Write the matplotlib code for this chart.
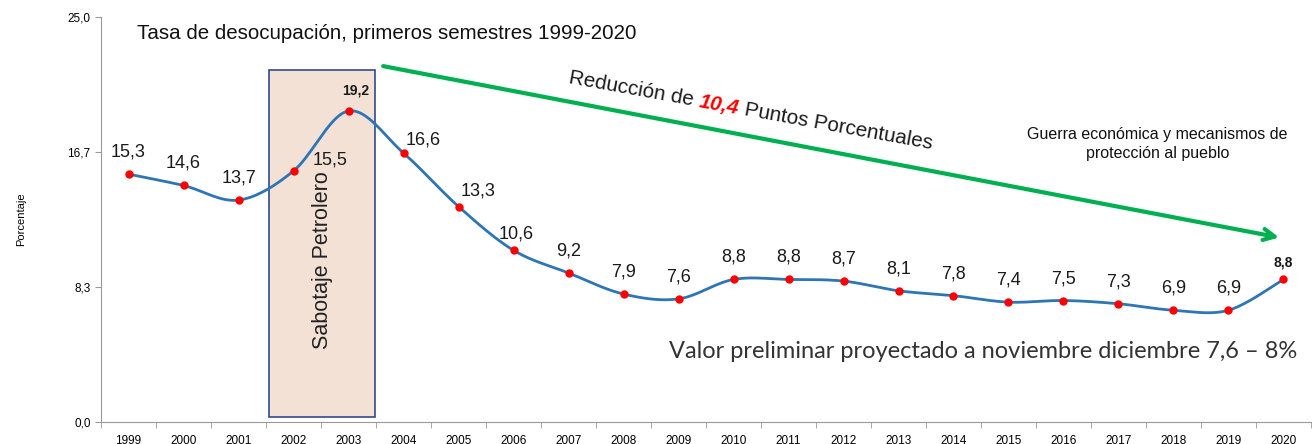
# tasa de desocupacion, primeros semestres 1999-2020
import numpy as np
import matplotlib.pyplot as plt

years = ['1999', '2000', '2001', '2002', '2003', '2004', '2005', '2006', '2007', '2008', '2009',
         '2010', '2011', '2012', '2013', '2014', '2015', '2016', '2017', '2018', '2019', '2020']
rate = [15.3, 14.6, 13.7, 15.5, 19.2, 16.6, 13.3, 10.6, 9.2, 7.9, 7.6,
        8.8, 8.8, 8.7, 8.1, 7.8, 7.4, 7.5, 7.3, 6.9, 6.9, 8.8]
yticks = [0.0, 25 / 3, 50 / 3, 25.0]

# label offsets in pixels (dx, dy)
offs = [(0, 22)] * len(rate)
offs[3] = (37, 11)
offs[4] = (7, 20)
offs[5] = (20, 13)
offs[6] = (20, 16)
offs[7] = (3, 16)
offs[21] = (0, 17)

plt.rcParams['font.family'] = ['Liberation Sans', 'DejaVu Sans']


def smooth(y, n=20):
    # catmull-rom style smoothing like the excel "smoothed line"
    y = np.asarray(y, float)
    x = np.arange(len(y), dtype=float)
    px = np.concatenate([[x[0]], x, [x[-1]]])
    py = np.concatenate([[y[0]], y, [y[-1]]])
    xs, ys = [], []
    for i in range(len(y) - 1):
        p0, p1, p2, p3 = [np.array([px[i + k], py[i + k]]) for k in range(4)]
        c1 = p1 + (p2 - p0) / 6
        c2 = p2 - (p3 - p1) / 6
        t = np.linspace(0, 1, n)[:, None]
        b = (1 - t) ** 3 * p1 + 3 * (1 - t) ** 2 * t * c1 + 3 * (1 - t) * t ** 2 * c2 + t ** 3 * p2
        xs.extend(b[:, 0])
        ys.extend(b[:, 1])
    return np.array(xs), np.array(ys)


fig = plt.figure(figsize=(13.14, 4.44), dpi=100)
ax = fig.add_axes([0.0769, 0.0495, 0.9208, 0.9122])

x = np.arange(len(years))

# sabotaje petrolero box
ax.add_patch(plt.Rectangle((2.56, 0.3), 1.93, 21.4, facecolor='#F3E1D5', edgecolor='#2F4B8C', lw=1.2, zorder=1))
ax.text(3.53, 10.0, 'Sabotaje Petrolero', rotation=90, ha='center', va='center', fontsize=15.5, color='#222222', zorder=2)

sx, sy = smooth(rate)
ax.plot(sx, sy, color='#2E75B6', lw=2, zorder=3)
ax.plot(x, rate, 'o', color='#FF0000', ms=5, zorder=4)

for i, v in enumerate(rate):
    dx, dy = offs[i]
    lab = f'{v:.1f}'.replace('.', ',')
    if i in (4, 21):
        ax.annotate(lab, (i, v), xytext=(dx, dy), textcoords='offset pixels', ha='center', va='center',
                    fontsize=10, fontweight='bold', color='#1a1a1a')
    else:
        ax.annotate(lab, (i, v), xytext=(dx, dy), textcoords='offset pixels', ha='center', va='center',
                    fontsize=13, color='#1a1a1a')

# green arrow
ax.annotate('', xy=(20.97, 11.36), xytext=(4.58, 22.0),
            arrowprops=dict(arrowstyle='->,head_length=0.8,head_width=0.4', color='#00B050', lw=3))

# reduction text (rotated, mixed colours), pieces laid out one after another
rot = -10.3
pieces = [('Reducción de ', '#1a1a1a', 'normal', 'normal'),
          ('10,4', '#FF0000', 'bold', 'italic'),
          (' Puntos Porcentuales', '#1a1a1a', 'normal', 'normal')]
renderer = fig.canvas.get_renderer()
px0, py0 = 568.0, 444 - 83.0
ang = np.deg2rad(rot)
for txt, col, fw, st in pieces:
    fig.text(px0, py0, txt, transform=None, rotation=rot, rotation_mode='anchor',
             ha='left', va='baseline', fontsize=14.9, color=col, fontweight=fw, style=st)
    probe = fig.text(0, 0, txt.replace(' ', '\u00a0'), transform=None, fontsize=14.9, fontweight=fw, style=st)
    w = probe.get_window_extent(renderer).width
    probe.remove()
    px0 += w * np.cos(ang)
    py0 += w * np.sin(ang)

ax.text(0.16, 24.0, 'Tasa de desocupación, primeros semestres 1999-2020', ha='left', va='center',
        fontsize=14.8, color='#111111')
ax.text(18.71, 17.16, 'Guerra económica y mecanismos de\nprotección al pueblo', ha='center', va='center',
        fontsize=11.5, color='#111111', linespacing=1.35)
ax.text(21.25, 4.35, 'Valor preliminar proyectado a noviembre diciembre 7,6 – 8%', ha='right', va='center',
        fontsize=17, color='#333333', family=['Lato', 'DejaVu Sans'])

ax.set_xlim(-0.5, 21.5)
ax.set_ylim(0, 25)
ax.set_xticks(x)
ax.set_xticklabels(years, fontsize=8.5)
ax.set_xticks(np.arange(-0.5, 22, 1), minor=True)
ax.tick_params(axis='x', which='major', length=0, pad=9)
ax.tick_params(axis='x', which='minor', length=4, color='#999999')
ax.set_yticks(yticks)
ax.set_yticklabels([f'{v:.1f}'.replace('.', ',') for v in yticks], fontsize=8.5)
ax.tick_params(axis='y', length=4, color='#999999')
ax.set_ylabel('Porcentaje', fontsize=8)
ax.yaxis.set_label_coords(-0.062, 0.5)
for s in ['top', 'right']:
    ax.spines[s].set_visible(False)
for s in ['left', 'bottom']:
    ax.spines[s].set_color('#999999')

plt.savefig('out.png', dpi=100)
